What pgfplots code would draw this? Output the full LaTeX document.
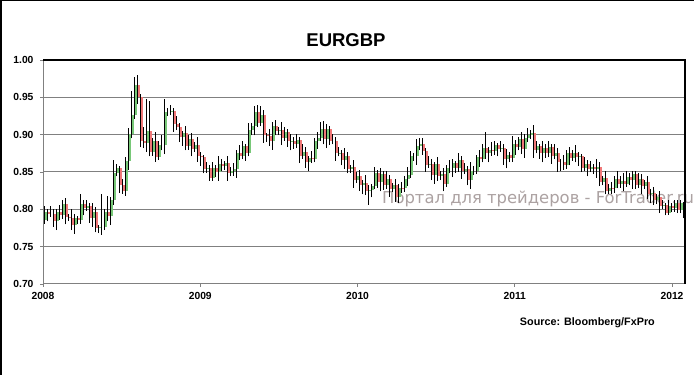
\documentclass[border=0pt]{standalone}
\usepackage{fontspec}
\setmainfont{Liberation Sans}
\newfontfamily\wmfont{DejaVu Sans}
\usepackage{pgfplots}
\usepackage{pgfplotstable}
\pgfplotsset{compat=1.18}
\definecolor{gridgray}{RGB}{128,128,128}
\definecolor{upgreen}{RGB}{120,200,120}
\definecolor{downred}{RGB}{240,120,120}
\definecolor{wm}{RGB}{172,162,162}
\pgfplotstableread{
i o h l c
0 0.786 0.804 0.781 0.796
1 0.796 0.800 0.784 0.794
2 0.794 0.805 0.790 0.794
3 0.794 0.800 0.777 0.784
4 0.784 0.800 0.772 0.797
5 0.797 0.806 0.786 0.792
6 0.792 0.812 0.787 0.807
7 0.807 0.815 0.780 0.790
8 0.790 0.794 0.785 0.789
9 0.789 0.800 0.772 0.779
10 0.779 0.794 0.767 0.788
11 0.788 0.791 0.780 0.786
12 0.786 0.820 0.781 0.807
13 0.807 0.812 0.792 0.802
14 0.802 0.813 0.798 0.805
15 0.805 0.809 0.782 0.789
16 0.789 0.808 0.777 0.797
17 0.797 0.803 0.769 0.775
18 0.775 0.779 0.768 0.776
19 0.776 0.820 0.766 0.776
20 0.776 0.801 0.772 0.796
21 0.796 0.818 0.784 0.791
22 0.791 0.816 0.779 0.812
23 0.812 0.866 0.806 0.849
24 0.849 0.861 0.844 0.855
25 0.855 0.858 0.822 0.832
26 0.832 0.841 0.821 0.825
27 0.825 0.870 0.818 0.865
28 0.865 0.909 0.853 0.901
29 0.901 0.958 0.895 0.926
30 0.926 0.977 0.921 0.966
31 0.966 0.980 0.941 0.951
32 0.951 0.954 0.883 0.892
33 0.892 0.910 0.882 0.889
34 0.889 0.948 0.877 0.905
35 0.905 0.945 0.871 0.877
36 0.877 0.896 0.872 0.892
37 0.892 0.903 0.864 0.870
38 0.870 0.892 0.866 0.886
39 0.886 0.900 0.879 0.886
40 0.886 0.948 0.874 0.931
41 0.931 0.936 0.925 0.931
42 0.931 0.940 0.926 0.932
43 0.932 0.936 0.904 0.914
44 0.914 0.925 0.906 0.910
45 0.910 0.916 0.890 0.897
46 0.897 0.905 0.885 0.902
47 0.902 0.911 0.879 0.885
48 0.885 0.899 0.880 0.894
49 0.894 0.902 0.871 0.881
50 0.881 0.890 0.877 0.886
51 0.886 0.897 0.864 0.871
52 0.871 0.877 0.858 0.870
53 0.870 0.873 0.848 0.854
54 0.854 0.864 0.849 0.855
55 0.855 0.860 0.838 0.842
56 0.842 0.863 0.838 0.855
57 0.855 0.859 0.843 0.850
58 0.850 0.872 0.838 0.861
59 0.861 0.867 0.852 0.858
60 0.858 0.865 0.853 0.862
61 0.862 0.871 0.838 0.848
62 0.848 0.857 0.844 0.852
63 0.852 0.862 0.845 0.854
64 0.854 0.879 0.842 0.875
65 0.875 0.886 0.866 0.872
66 0.872 0.891 0.867 0.885
67 0.885 0.888 0.865 0.875
68 0.875 0.915 0.871 0.906
69 0.906 0.916 0.899 0.911
70 0.911 0.939 0.899 0.931
71 0.931 0.940 0.910 0.916
72 0.916 0.938 0.911 0.927
73 0.927 0.933 0.889 0.899
74 0.899 0.902 0.890 0.898
75 0.898 0.907 0.885 0.892
76 0.892 0.917 0.880 0.912
77 0.912 0.920 0.899 0.905
78 0.905 0.910 0.900 0.906
79 0.906 0.917 0.886 0.896
80 0.896 0.910 0.892 0.904
81 0.904 0.907 0.884 0.891
82 0.891 0.901 0.879 0.892
83 0.892 0.897 0.881 0.887
84 0.887 0.901 0.882 0.893
85 0.893 0.897 0.862 0.872
86 0.872 0.888 0.868 0.877
87 0.877 0.883 0.856 0.863
88 0.863 0.872 0.851 0.869
89 0.869 0.878 0.862 0.868
90 0.868 0.896 0.863 0.891
91 0.891 0.904 0.881 0.896
92 0.896 0.917 0.892 0.907
93 0.907 0.918 0.887 0.894
94 0.894 0.914 0.882 0.908
95 0.908 0.911 0.886 0.892
96 0.892 0.901 0.887 0.892
97 0.892 0.897 0.865 0.875
98 0.875 0.884 0.871 0.876
99 0.876 0.880 0.859 0.866
100 0.866 0.882 0.854 0.871
101 0.871 0.877 0.848 0.854
102 0.854 0.860 0.849 0.857
103 0.857 0.866 0.829 0.839
104 0.839 0.850 0.835 0.845
105 0.845 0.853 0.825 0.832
106 0.832 0.839 0.820 0.835
107 0.835 0.846 0.819 0.825
108 0.825 0.832 0.806 0.826
109 0.826 0.834 0.816 0.831
110 0.831 0.857 0.827 0.848
111 0.848 0.853 0.829 0.836
112 0.836 0.855 0.824 0.847
113 0.847 0.851 0.826 0.832
114 0.832 0.851 0.827 0.840
115 0.840 0.846 0.817 0.827
116 0.827 0.835 0.823 0.832
117 0.832 0.841 0.810 0.817
118 0.817 0.834 0.808 0.829
119 0.829 0.837 0.822 0.828
120 0.828 0.845 0.823 0.841
121 0.841 0.857 0.831 0.846
122 0.846 0.878 0.842 0.872
123 0.872 0.875 0.865 0.872
124 0.872 0.894 0.860 0.885
125 0.885 0.895 0.879 0.887
126 0.887 0.895 0.873 0.878
127 0.878 0.882 0.850 0.860
128 0.860 0.872 0.856 0.861
129 0.861 0.867 0.839 0.846
130 0.846 0.864 0.834 0.861
131 0.861 0.870 0.838 0.844
132 0.844 0.852 0.839 0.847
133 0.847 0.855 0.824 0.834
134 0.834 0.859 0.830 0.855
135 0.855 0.866 0.848 0.855
136 0.855 0.868 0.843 0.862
137 0.862 0.865 0.849 0.855
138 0.855 0.875 0.850 0.866
139 0.866 0.871 0.841 0.851
140 0.851 0.862 0.847 0.854
141 0.854 0.858 0.832 0.839
142 0.839 0.863 0.827 0.852
143 0.852 0.858 0.846 0.852
144 0.852 0.873 0.847 0.870
145 0.870 0.879 0.857 0.867
146 0.867 0.887 0.863 0.882
147 0.882 0.904 0.868 0.875
148 0.875 0.883 0.863 0.879
149 0.879 0.890 0.872 0.878
150 0.878 0.892 0.873 0.886
151 0.886 0.889 0.871 0.881
152 0.881 0.891 0.877 0.882
153 0.882 0.887 0.860 0.867
154 0.867 0.881 0.855 0.873
155 0.873 0.877 0.863 0.869
156 0.869 0.898 0.864 0.887
157 0.887 0.893 0.873 0.883
158 0.883 0.897 0.879 0.894
159 0.894 0.903 0.874 0.881
160 0.881 0.901 0.869 0.896
161 0.896 0.909 0.890 0.899
162 0.899 0.906 0.894 0.902
163 0.902 0.913 0.869 0.879
164 0.879 0.891 0.875 0.885
165 0.885 0.888 0.868 0.875
166 0.875 0.891 0.863 0.882
167 0.882 0.887 0.869 0.875
168 0.875 0.891 0.870 0.883
169 0.883 0.887 0.861 0.871
170 0.871 0.887 0.867 0.876
171 0.876 0.882 0.850 0.864
172 0.864 0.867 0.852 0.864
173 0.864 0.873 0.853 0.859
174 0.859 0.880 0.854 0.875
175 0.875 0.883 0.859 0.869
176 0.869 0.879 0.865 0.875
177 0.875 0.886 0.863 0.870
178 0.870 0.877 0.858 0.871
179 0.871 0.874 0.850 0.856
180 0.856 0.870 0.851 0.861
181 0.861 0.866 0.844 0.854
182 0.854 0.865 0.850 0.857
183 0.857 0.861 0.847 0.854
184 0.854 0.868 0.842 0.857
185 0.857 0.863 0.831 0.837
186 0.837 0.845 0.832 0.842
187 0.842 0.851 0.820 0.825
188 0.825 0.834 0.821 0.829
189 0.829 0.837 0.821 0.828
190 0.828 0.845 0.822 0.841
191 0.841 0.852 0.828 0.834
192 0.834 0.844 0.829 0.838
193 0.838 0.849 0.824 0.834
194 0.834 0.852 0.830 0.843
195 0.843 0.848 0.832 0.839
196 0.839 0.852 0.827 0.847
197 0.847 0.851 0.827 0.833
198 0.833 0.848 0.828 0.841
199 0.841 0.847 0.821 0.831
200 0.831 0.839 0.827 0.836
201 0.836 0.845 0.814 0.821
202 0.821 0.827 0.809 0.822
203 0.822 0.830 0.806 0.812
204 0.812 0.821 0.807 0.817
205 0.817 0.824 0.795 0.805
206 0.805 0.812 0.801 0.806
207 0.806 0.809 0.792 0.795
208 0.795 0.813 0.793 0.804
209 0.804 0.809 0.796 0.802
210 0.802 0.812 0.797 0.808
211 0.808 0.812 0.795 0.799
212 0.799 0.812 0.795 0.808
213 0.808 0.810 0.788 0.795
}\candles
\begin{document}
\begin{tikzpicture}
\useasboundingbox (0,0) rectangle (698bp,375bp);
\fill[white] (0,0) rectangle (698bp,375bp);
\draw[black, line width=1.5bp] (0.75bp,0) -- (0.75bp,374.25bp) -- (694bp,374.25bp);
\node[font=\fontsize{18.5bp}{22bp}\selectfont\bfseries] at (346bp,334.5bp) {EURGBP};
\node[anchor=base west, inner sep=0pt, text=wm, font=\fontsize{16.4bp}{19bp}\selectfont\wmfont] at (382bp,171bp) {Портал для трейдеров - ForTrader.ru};
\node[anchor=east, inner sep=0pt, font=\fontsize{10.8bp}{13bp}\selectfont\bfseries] at (655bp,52.5bp) {Source: Bloomberg/FxPro};
\begin{axis}[
  at={(43bp,91bp)}, anchor=south west,
  width=642bp, height=224bp, scale only axis,
  xmin=-0.667, xmax=213.33, ymin=0.70, ymax=1.00,
  xtick={-0.667,51.75,104.17,156.58,209},
  xticklabels={2008,2009,2010,2011,2012},
  ytick={0.70,0.75,0.80,0.85,0.90,0.95,1.00},
  /pgf/number format/assume math mode=true,
  /pgf/number format/fixed,
  /pgf/number format/fixed zerofill,
  /pgf/number format/precision=2,
  ticklabel style={font=\fontsize{10.3bp}{12bp}\selectfont\bfseries},
  xticklabel style={yshift=-1.5bp},
  yticklabel style={xshift=-3bp},
  xtick pos=bottom, ytick pos=left,
  tick align=outside, major tick length=3bp,
  tick style={draw=gridgray, line width=0.8bp},
  ymajorgrids, major grid style={draw=gridgray, line width=1bp},
  axis line style={draw=none},
  clip=false,
]
% bodies, up candles
\addplot[draw=none, no markers,
  restrict expr to domain={\thisrow{c}-\thisrow{o}}{0:1},
  error bars/.cd, y dir=plus, y explicit, error mark=none,
  error bar style={draw=upgreen, line width=3bp}]
  table[x=i, y=o, y error plus expr=\thisrow{c}-\thisrow{o}] {\candles};
% bodies, down candles
\addplot[draw=none, no markers,
  restrict expr to domain={\thisrow{o}-\thisrow{c}}{0.0001:1},
  error bars/.cd, y dir=plus, y explicit, error mark=none,
  error bar style={draw=downred, line width=3bp}]
  table[x=i, y=c, y error plus expr=\thisrow{o}-\thisrow{c}] {\candles};
% wicks
\addplot[draw=none, no markers,
  error bars/.cd, y dir=plus, y explicit, error mark=none,
  error bar style={draw=black, line width=1.8bp, xshift=-0.6bp}]
  table[x=i, y=l, y error plus expr=\thisrow{h}-\thisrow{l}] {\candles};
\draw[gridgray, line width=1bp] (rel axis cs:0,1) -- (rel axis cs:0,0) -- (rel axis cs:1,0);
\draw[black, line width=1.3bp] (rel axis cs:0,1) -- (rel axis cs:1,1) -- (rel axis cs:1,0);
\end{axis}
\end{tikzpicture}
\end{document}
